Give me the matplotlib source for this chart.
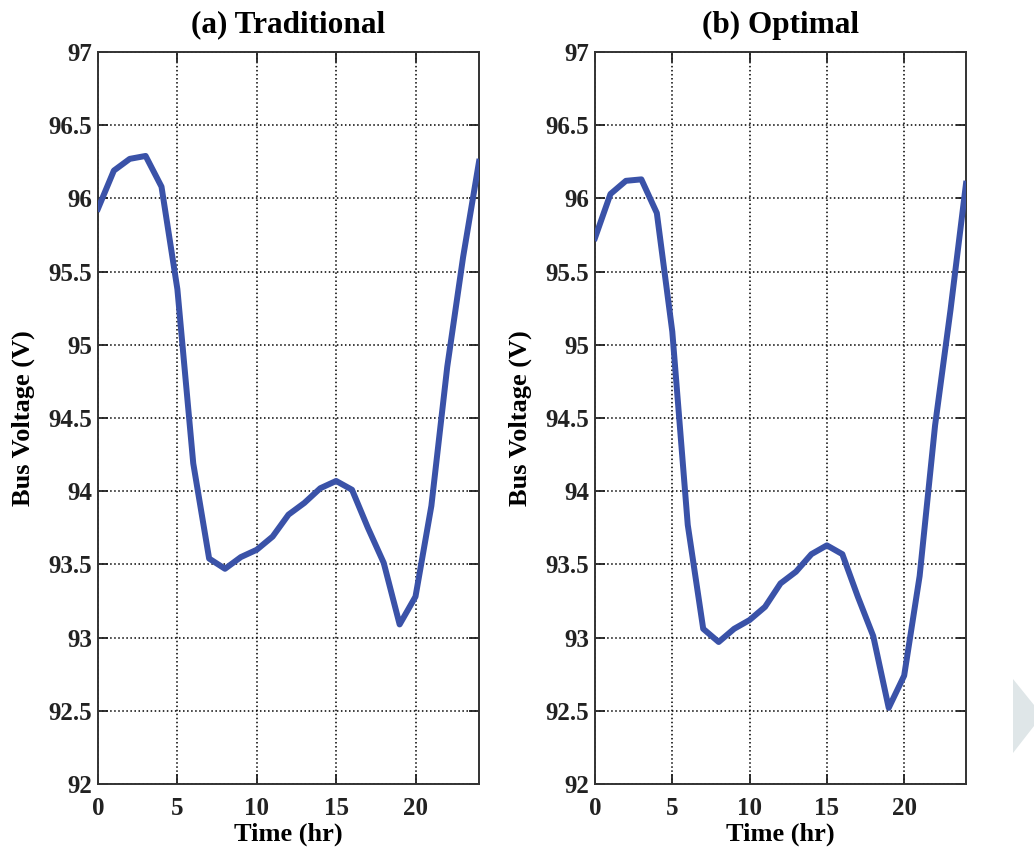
import numpy as np
import matplotlib
matplotlib.use("Agg")
import matplotlib.pyplot as plt
from matplotlib.patches import Polygon

plt.rcParams['font.family'] = ['Liberation Serif', 'DejaVu Serif']
plt.rcParams['font.weight'] = 'bold'

# hourly bus voltage
hours = np.arange(0, 25)
v_traditional = [95.93, 96.19, 96.27, 96.29, 96.08, 95.38, 94.19, 93.54, 93.47, 93.55,
                 93.60, 93.69, 93.84, 93.92, 94.02, 94.07, 94.01, 93.75, 93.51, 93.09,
                 93.28, 93.90, 94.85, 95.60, 96.25]
v_optimal = [95.73, 96.03, 96.12, 96.13, 95.90, 95.09, 93.77, 93.06, 92.97, 93.06,
             93.12, 93.21, 93.37, 93.45, 93.57, 93.63, 93.57, 93.28, 93.01, 92.52,
             92.74, 93.42, 94.45, 95.24, 96.10]
titles = ['(a) Traditional', '(b) Optimal']
x_ticks = [0, 5, 10, 15, 20]
y_ticks = [92, 92.5, 93, 93.5, 94, 94.5, 95, 95.5, 96, 96.5, 97]
y_ticklabels = ['92', '92.5', '93', '93.5', '94', '94.5', '95', '95.5', '96', '96.5', '97']

W, H = 1034, 855
fig = plt.figure(figsize=(W / 100, H / 100), dpi=100)

# axes boxes in pixels (left, top, right, bottom)
boxes = [(98, 52, 479, 784), (595, 52, 966, 784)]

for box, title, volts in zip(boxes, titles, [v_traditional, v_optimal]):
    l, t, r, b = box
    ax = fig.add_axes([l / W, 1 - b / H, (r - l) / W, (b - t) / H])
    ax.plot(hours, volts, color='#3a52a8', lw=4.3, solid_joinstyle='round', zorder=3)
    ax.set_xlim(0, 24)
    ax.set_ylim(92, 97)
    ax.set_xticks(x_ticks)
    ax.set_yticks(y_ticks)
    ax.set_yticklabels(y_ticklabels)
    ax.grid(True, linestyle=':', color='black', lw=1.1)
    ax.tick_params(direction='in', top=True, right=True, length=7, width=1.3,
                   labelsize=18, colors='#222222')
    ax.tick_params(axis='x', pad=9)
    ax.tick_params(axis='y', pad=4)
    for sp in ax.spines.values():
        sp.set_linewidth(1.4)
        sp.set_color('#333333')
    ax.set_title(title, fontsize=22.5, fontweight='bold', pad=14)
    ax.set_xlabel('Time (hr)', fontsize=19, fontweight='bold', labelpad=2)
    ax.set_ylabel('Bus Voltage (V)', fontsize=19, fontweight='bold', labelpad=10)

# faint arrow shape at the right edge of the page
fig.patches.append(Polygon([(1013 / W, 1 - 679 / H), (1034 / W, 1 - 705 / H),
                            (1034 / W, 1 - 726 / H), (1013 / W, 1 - 753 / H)],
                           closed=True, transform=fig.transFigure,
                           facecolor='#dfe6e8', edgecolor='none'))

fig.savefig('out.png', dpi=100)
